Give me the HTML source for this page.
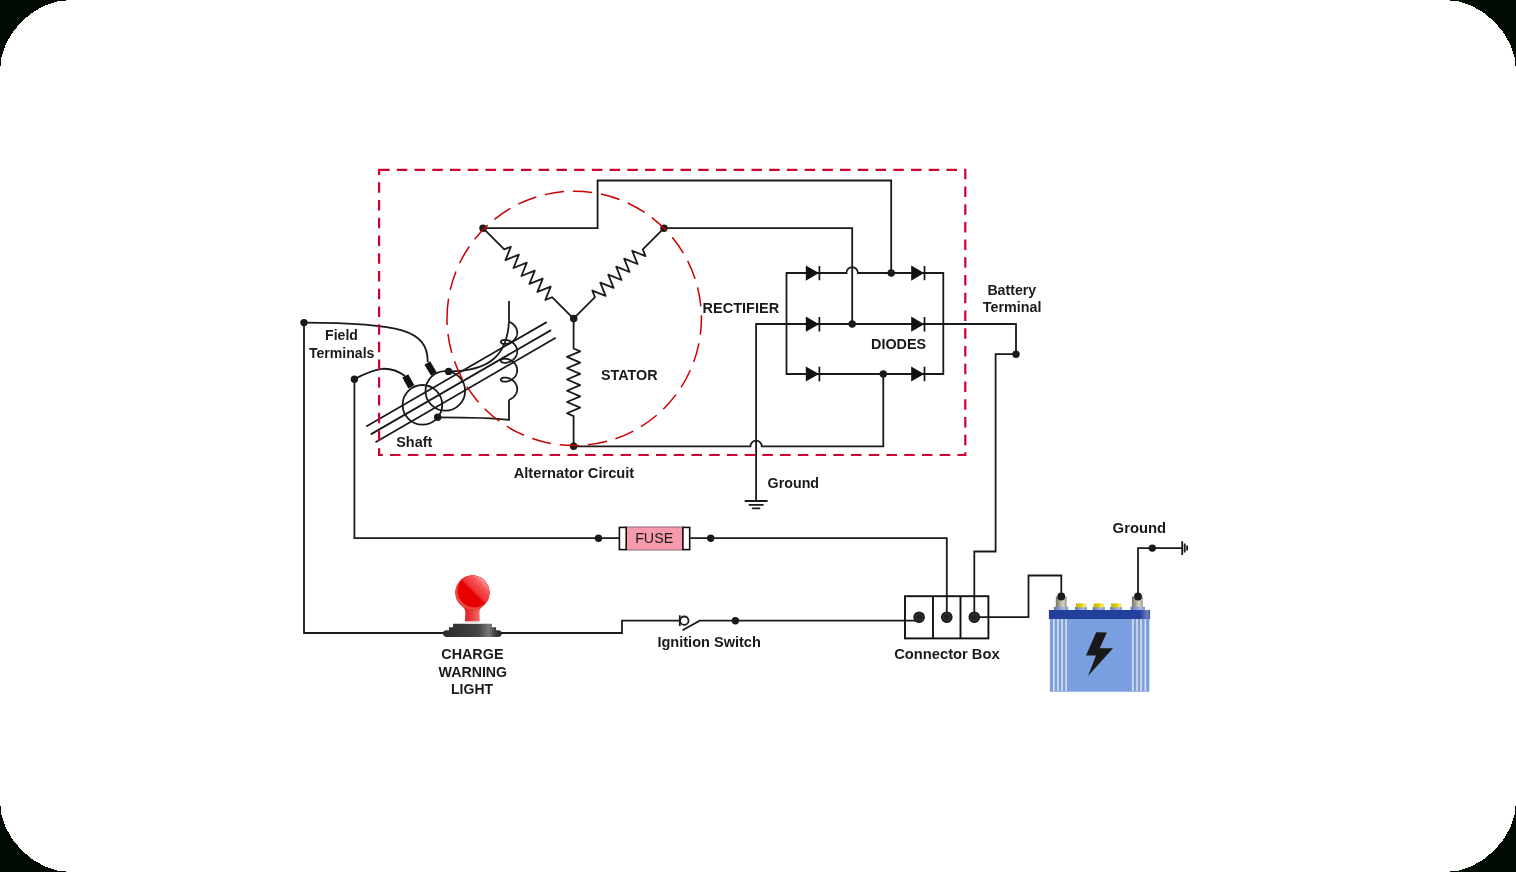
<!DOCTYPE html>
<html><head><meta charset="utf-8"><style>
html,body{margin:0;padding:0;width:1516px;height:872px;overflow:hidden;background:#000a00;}
svg{display:block;will-change:transform}
text{font-family:"Liberation Sans",sans-serif;fill:#1a1a1a}
</style></head><body>
<svg width="1516" height="872" viewBox="0 0 1516 872">
<defs>
<path id="res" d="M0.00,0.00 L30.00,0.00 L32.82,-6.60 L38.45,6.60 L44.08,-6.60 L49.72,6.60 L55.35,-6.60 L60.98,6.60 L66.62,-6.60 L72.25,6.60 L77.88,-6.60 L83.52,6.60 L89.15,-6.60 L94.78,6.60 L97.60,0.00 L128.00,0.00" fill="none" stroke="#1a1a1a" stroke-width="1.8" stroke-linejoin="round"/>
<linearGradient id="baseg" x1="0" x2="1" y1="0" y2="0">
<stop offset="0" stop-color="#2a2a2a"/><stop offset="0.6" stop-color="#444"/><stop offset="0.78" stop-color="#7a7a7a"/><stop offset="0.9" stop-color="#3a3a3a"/><stop offset="1" stop-color="#222"/>
</linearGradient>
<clipPath id="ballclip"><circle cx="472.4" cy="592.6" r="17.1"/></clipPath>
<linearGradient id="hlg" gradientUnits="userSpaceOnUse" x1="471.6" y1="591.4" x2="484.5" y2="578.5">
<stop offset="0" stop-color="#ff5a5a" stop-opacity="0"/><stop offset="0.16" stop-color="#f04545" stop-opacity="0.75"/><stop offset="0.6" stop-color="#f56262" stop-opacity="0.9"/><stop offset="1" stop-color="#ffb0b0" stop-opacity="1"/>
</linearGradient>
<linearGradient id="stemg" x1="0" x2="1" y1="0" y2="0">
<stop offset="0" stop-color="#e41010"/><stop offset="0.45" stop-color="#ec3a3a"/><stop offset="0.8" stop-color="#f26a6a"/><stop offset="1" stop-color="#e01818"/>
</linearGradient>
<linearGradient id="postg" x1="0" x2="1" y1="0" y2="0">
<stop offset="0" stop-color="#77725f"/><stop offset="0.65" stop-color="#d6d2c6"/><stop offset="1" stop-color="#a39d8c"/>
</linearGradient>
<linearGradient id="yelg" x1="0" x2="1" y1="0" y2="0">
<stop offset="0" stop-color="#c2b200"/><stop offset="0.55" stop-color="#ddcd00"/><stop offset="0.85" stop-color="#f6ec6a"/><stop offset="1" stop-color="#eadb22"/>
</linearGradient>
<linearGradient id="ringg" x1="0" x2="1" y1="0" y2="0">
<stop offset="0" stop-color="#5f78b2"/><stop offset="0.7" stop-color="#a9badf"/><stop offset="1" stop-color="#7891c6"/>
</linearGradient>
<linearGradient id="lidg" x1="0" x2="1" y1="0" y2="0">
<stop offset="0" stop-color="#22409b"/><stop offset="0.9" stop-color="#22409b"/><stop offset="0.97" stop-color="#6d7cbc"/><stop offset="1" stop-color="#4a5fae"/>
</linearGradient>
</defs>
<path d="M70,0 H1446 C1481.70,0 1516,34.30 1516,70 V802 C1516,837.70 1481.70,872 1446,872 H70 C34.30,872 0,837.70 0,802 V70 C0,34.30 34.30,0 70,0 Z" fill="#ffffff" shape-rendering="crispEdges"/>
<g>
<rect x="1049.9" y="618.5" width="99.5" height="73.2" fill="#7a9fe0"/>
<g fill="#dcdfe4">
<rect x="1053" y="619" width="1.6" height="72"/><rect x="1057.1" y="619" width="1.6" height="72"/><rect x="1061.2" y="619" width="1.6" height="72"/><rect x="1065.3" y="619" width="1.6" height="72"/>
<rect x="1132.1" y="619" width="1.6" height="72"/><rect x="1136.2" y="619" width="1.6" height="72"/><rect x="1140.3" y="619" width="1.6" height="72"/><rect x="1144.5" y="619" width="1.6" height="72"/>
</g>
<rect x="1048.9" y="610" width="101.2" height="9" fill="url(#lidg)"/>
<rect x="1053.8" y="606.8" width="14.4" height="3.2" fill="url(#ringg)"/>
<rect x="1130.5" y="606.8" width="14.4" height="3.2" fill="url(#ringg)"/>
<rect x="1055.8" y="596.5" width="11" height="10.5" fill="url(#postg)"/>
<rect x="1131.9" y="596.5" width="11" height="10.5" fill="url(#postg)"/>
<rect x="1075" y="607" width="12" height="3" fill="url(#ringg)"/><rect x="1092.7" y="607" width="12" height="3" fill="url(#ringg)"/><rect x="1110.1" y="607" width="12" height="3" fill="url(#ringg)"/>
<rect x="1076" y="603.4" width="10" height="4" fill="url(#yelg)"/><rect x="1093.7" y="603.4" width="10" height="4" fill="url(#yelg)"/><rect x="1111.1" y="603.4" width="10" height="4" fill="url(#yelg)"/>
<path d="M1096.2,632.2 L1106.9,632.4 L1099.7,648.2 L1113.0,648.2 L1088.0,676.0 L1096.0,655.5 L1086.0,655.4 Z" fill="#1a1a1a"/>
</g>
<use href="#res" transform="translate(483,228.2) rotate(45)"/>
<use href="#res" transform="translate(664,228.2) rotate(135)"/>
<use href="#res" transform="translate(573.6,318.5) rotate(90)"/>
<g fill="none" stroke="#1a1a1a" stroke-width="1.8">
<path d="M483,228.2 H597.6 V180.5 H891.2 V273"/>
<path d="M664,228.2 H852.2 V324"/>
<path d="M573.6,446.3 H750.4 A5.7,5.7 0 0 1 761.8,446.3 H883.3 V374"/>
<path d="M786.5,273 H846.4 A5.7,5.7 0 0 1 857.9,273 H943.3 V374 H786.5 Z"/>
<path d="M756.1,501 V324 H1016 V354.2 H995.6 V551.5 H974.3 V617.2"/>
<path d="M744.7,501 H767.6 M748.7,504.9 H763.6 M752.1,508.3 H760.2"/>
<path d="M354.4,379.2 V538.2 H619 M690.3,538.2 H946.8 V617.2"/>
<path d="M304,322.6 V633 H446 M500,633 H622 V620.7 H679.8"/>
<path d="M679.8,615.2 V626.1 M682.5,630.3 L699.7,620.7 H919"/>
<circle cx="684.3" cy="620.7" r="4.2"/>
<path d="M974.3,617.2 H1028.5 V575.5 H1061.3 V596.5"/>
<path d="M1138,596.5 V548.1 H1182.3"/>
<path d="M1182.2,541.2 V555.1 M1184.7,543.4 V552.5 M1187.1,545.5 V550.6"/>
<path d="M304,322.6 C400,323 428,330 427.7,362"/>
<path d="M354.4,379.2 Q370,370.5 382,368.8 Q394,368 405,376"/>
<path d="M366.2,426.5 L546.7,322.1 M370.7,434.4 L551.1,330.1 M375.5,442.3 L555.7,337.8"/>
<circle cx="422.4" cy="404.8" r="19.8"/>
<circle cx="445.3" cy="390.9" r="19.8"/>
<path d="M509,301 V321.79"/>
<path d="M509.00,321.79 L509.36,321.93 L509.72,322.07 L510.08,322.24 L510.44,322.41 L510.79,322.59 L511.14,322.79 L511.48,322.99 L511.83,323.21 L512.16,323.44 L512.49,323.68 L512.81,323.93 L513.13,324.19 L513.44,324.46 L513.74,324.74 L514.03,325.03 L514.31,325.32 L514.58,325.63 L514.83,325.95 L515.08,326.27 L515.32,326.60 L515.54,326.94 L515.75,327.29 L515.95,327.64 L516.14,328.00 L516.31,328.36 L516.46,328.73 L516.61,329.11 L516.73,329.49 L516.85,329.87 L516.94,330.25 L517.02,330.64 L517.09,331.03 L517.14,331.43 L517.18,331.82 L517.20,332.22 L517.20,332.61 L517.19,333.01 L517.16,333.40 L517.11,333.80 L517.05,334.19 L516.98,334.58 L516.89,334.97 L516.78,335.35 L516.66,335.73 L516.53,336.11 L516.38,336.48 L516.21,336.85 L516.03,337.21 L515.84,337.56 L515.63,337.91 L515.42,338.25 L515.18,338.59 L514.94,338.92 L514.69,339.23 L514.42,339.55 L514.15,339.85 L513.86,340.14 L513.57,340.42 L513.26,340.70 L512.95,340.96 L512.63,341.22 L512.30,341.46 L511.97,341.69 L511.63,341.91 L511.29,342.13 L510.94,342.33 L510.59,342.51 L510.23,342.69 L509.87,342.86 L509.51,343.01 L509.15,343.15 L508.79,343.29 L508.43,343.41 L508.07,343.51 L507.72,343.61 L507.36,343.69 L507.01,343.77 L506.66,343.83 L506.32,343.88 L505.98,343.92 L505.65,343.95 L505.32,343.97 L505.00,343.98 L504.69,343.98 L504.39,343.97 L504.10,343.94 L503.81,343.91 L503.54,343.87 L503.28,343.83 L503.02,343.77 L502.78,343.71 L502.55,343.63 L502.34,343.55 L502.13,343.47 L501.94,343.38 L501.77,343.28 L501.60,343.18 L501.45,343.07 L501.32,342.95 L501.20,342.84 L501.10,342.72 L501.01,342.59 L500.94,342.47 L500.88,342.34 L500.84,342.21 L500.81,342.08 L500.80,341.94 L500.81,341.81 L500.83,341.68 L500.86,341.55 L500.92,341.42 L500.99,341.29 L501.07,341.17 L501.17,341.05 L501.28,340.93 L501.41,340.81 L501.56,340.70 L501.72,340.60 L501.89,340.50 L502.08,340.41 L502.28,340.32 L502.49,340.24 L502.71,340.16 L502.95,340.10 L503.20,340.04 L503.46,339.99 L503.73,339.95 L504.01,339.91 L504.31,339.89 L504.61,339.87 L504.91,339.87 L505.23,339.88 L505.56,339.89 L505.89,339.92 L506.22,339.96 L506.56,340.00 L506.91,340.06 L507.26,340.13 L507.62,340.21 L507.97,340.31 L508.33,340.41 L508.69,340.53 L509.05,340.66 L509.41,340.80 L509.77,340.95 L510.13,341.11 L510.49,341.28 L510.84,341.47 L511.19,341.67 L511.53,341.87 L511.87,342.09 L512.21,342.32 L512.54,342.56 L512.86,342.81 L513.17,343.07 L513.48,343.35 L513.78,343.63 L514.07,343.92 L514.35,344.22 L514.61,344.53 L514.87,344.84 L515.12,345.17 L515.35,345.50 L515.57,345.84 L515.78,346.19 L515.98,346.54 L516.16,346.90 L516.33,347.26 L516.48,347.63 L516.62,348.01 L516.75,348.39 L516.86,348.77 L516.96,349.16 L517.03,349.55 L517.10,349.94 L517.15,350.33 L517.18,350.73 L517.20,351.12 L517.20,351.52 L517.18,351.91 L517.15,352.31 L517.11,352.70 L517.04,353.10 L516.97,353.48 L516.87,353.87 L516.77,354.26 L516.64,354.64 L516.50,355.01 L516.35,355.38 L516.19,355.75 L516.01,356.11 L515.81,356.46 L515.60,356.81 L515.38,357.15 L515.15,357.49 L514.91,357.81 L514.65,358.13 L514.38,358.44 L514.11,358.74 L513.82,359.03 L513.52,359.31 L513.22,359.59 L512.91,359.85 L512.58,360.10 L512.26,360.34 L511.92,360.57 L511.58,360.80 L511.24,361.00 L510.89,361.20 L510.54,361.39 L510.18,361.57 L509.82,361.73 L509.46,361.88 L509.10,362.02 L508.74,362.15 L508.38,362.27 L508.02,362.38 L507.67,362.47 L507.31,362.56 L506.96,362.63 L506.61,362.69 L506.27,362.74 L505.93,362.78 L505.60,362.80 L505.28,362.82 L504.96,362.83 L504.65,362.83 L504.35,362.81 L504.06,362.79 L503.77,362.76 L503.50,362.72 L503.24,362.67 L502.99,362.61 L502.75,362.55 L502.52,362.47 L502.31,362.39 L502.10,362.31 L501.92,362.21 L501.74,362.11 L501.58,362.01 L501.43,361.90 L501.30,361.79 L501.19,361.67 L501.08,361.55 L501.00,361.42 L500.93,361.30 L500.87,361.17 L500.83,361.04 L500.81,360.91 L500.80,360.77 L500.81,360.64 L500.83,360.51 L500.87,360.38 L500.93,360.25 L501.00,360.13 L501.08,360.00 L501.19,359.88 L501.30,359.76 L501.43,359.65 L501.58,359.54 L501.74,359.43 L501.92,359.34 L502.10,359.24 L502.31,359.16 L502.52,359.08 L502.75,359.00 L502.99,358.94 L503.24,358.88 L503.50,358.83 L503.77,358.79 L504.06,358.76 L504.35,358.74 L504.65,358.72 L504.96,358.72 L505.28,358.73 L505.60,358.74 L505.93,358.77 L506.27,358.81 L506.61,358.86 L506.96,358.92 L507.31,358.99 L507.67,359.08 L508.02,359.17 L508.38,359.28 L508.74,359.40 L509.10,359.52 L509.46,359.67 L509.82,359.82 L510.18,359.98 L510.54,360.16 L510.89,360.35 L511.24,360.54 L511.58,360.75 L511.92,360.97 L512.26,361.21 L512.58,361.45 L512.91,361.70 L513.22,361.96 L513.52,362.24 L513.82,362.52 L514.11,362.81 L514.38,363.11 L514.65,363.42 L514.91,363.74 L515.15,364.06 L515.38,364.40 L515.60,364.74 L515.81,365.09 L516.01,365.44 L516.19,365.80 L516.35,366.17 L516.50,366.54 L516.64,366.91 L516.77,367.29 L516.87,367.68 L516.97,368.06 L517.04,368.45 L517.11,368.85 L517.15,369.24 L517.18,369.63 L517.20,370.03 L517.20,370.43 L517.18,370.82 L517.15,371.22 L517.10,371.61 L517.03,372.00 L516.96,372.39 L516.86,372.78 L516.75,373.16 L516.62,373.54 L516.48,373.91 L516.33,374.28 L516.16,374.65 L515.98,375.01 L515.78,375.36 L515.57,375.71 L515.35,376.05 L515.12,376.38 L514.87,376.71 L514.61,377.02 L514.35,377.33 L514.07,377.63 L513.78,377.92 L513.48,378.20 L513.17,378.47 L512.86,378.73 L512.54,378.99 L512.21,379.23 L511.87,379.46 L511.53,379.68 L511.19,379.88 L510.84,380.08 L510.49,380.27 L510.13,380.44 L509.77,380.60 L509.41,380.75 L509.05,380.89 L508.69,381.02 L508.33,381.14 L507.97,381.24 L507.62,381.33 L507.26,381.42 L506.91,381.49 L506.56,381.55 L506.22,381.59 L505.89,381.63 L505.56,381.66 L505.23,381.67 L504.91,381.68 L504.61,381.67 L504.31,381.66 L504.01,381.64 L503.73,381.60 L503.46,381.56 L503.20,381.51 L502.95,381.45 L502.71,381.39 L502.49,381.31 L502.28,381.23 L502.08,381.14 L501.89,381.05 L501.72,380.95 L501.56,380.84 L501.41,380.73 L501.28,380.62 L501.17,380.50 L501.07,380.38 L500.99,380.26 L500.92,380.13 L500.86,380.00 L500.83,379.87 L500.81,379.74 L500.80,379.61 L500.81,379.47 L500.84,379.34 L500.88,379.21 L500.94,379.08 L501.01,378.96 L501.10,378.83 L501.20,378.71 L501.32,378.60 L501.45,378.48 L501.60,378.37 L501.77,378.27 L501.94,378.17 L502.13,378.08 L502.34,377.99 L502.55,377.91 L502.78,377.84 L503.02,377.78 L503.28,377.72 L503.54,377.67 L503.81,377.63 L504.10,377.60 L504.39,377.58 L504.69,377.57 L505.00,377.57 L505.32,377.58 L505.65,377.60 L505.98,377.63 L506.32,377.67 L506.66,377.72 L507.01,377.78 L507.36,377.85 L507.72,377.94 L508.07,378.04 L508.43,378.14 L508.79,378.26 L509.15,378.39 L509.51,378.54 L509.87,378.69 L510.23,378.86 L510.59,379.03 L510.94,379.22 L511.29,379.42 L511.63,379.63 L511.97,379.86 L512.30,380.09 L512.63,380.33 L512.95,380.59 L513.26,380.85 L513.57,381.12 L513.86,381.41 L514.15,381.70 L514.42,382.00 L514.69,382.31 L514.94,382.63 L515.18,382.96 L515.42,383.30 L515.63,383.64 L515.84,383.99 L516.03,384.34 L516.21,384.70 L516.38,385.07 L516.53,385.44 L516.66,385.82 L516.78,386.20 L516.89,386.58 L516.98,386.97 L517.05,387.36 L517.11,387.75 L517.16,388.14 L517.19,388.54 L517.20,388.94 L517.20,389.33 L517.18,389.73 L517.14,390.12 L517.09,390.51 L517.02,390.91 L516.94,391.29 L516.85,391.68 L516.73,392.06 L516.61,392.44 L516.46,392.82 L516.31,393.19 L516.14,393.55 L515.95,393.91 L515.75,394.26 L515.54,394.61 L515.32,394.95 L515.08,395.28 L514.83,395.60 L514.58,395.92 L514.31,396.22 L514.03,396.52 L513.74,396.81 L513.44,397.09 L513.13,397.36 L512.81,397.62 L512.49,397.87 L512.16,398.11 L511.83,398.34 L511.48,398.56 L511.14,398.76 L510.79,398.96 L510.44,399.14 L510.08,399.31 L509.72,399.47 L509.36,399.62 L509.00,399.76" stroke-linejoin="round"/>
<path d="M509,399.76 V419.8 C490,417.3 470,417.3 437.7,417.3"/>
<path d="M509,321.79 C507,355 490,371.4 448.6,371.4"/>
</g>
<g fill="#111">
<rect x="-3.3" y="-6.4" width="6.6" height="12.8" transform="translate(430.6,368.5) rotate(-31)"/>
<rect x="-3.4" y="-6.3" width="6.8" height="12.6" transform="translate(408.3,381.4) rotate(-29)"/>
</g>
<g fill="#111">
<path d="M805.8,265.5 L819.0,273.1 L805.8,280.7 Z"/>
<path d="M911.2,265.5 L924.1,273.1 L911.2,280.7 Z"/>
<path d="M805.8,316.6 L819.0,324.2 L805.8,331.8 Z"/>
<path d="M911.2,316.6 L924.1,324.2 L911.2,331.8 Z"/>
<path d="M805.8,366.4 L819.0,374.0 L805.8,381.6 Z"/>
<path d="M911.2,366.4 L924.1,374.0 L911.2,381.6 Z"/>
</g>
<path d="M819.4,265.9 V280.3 M924.5,265.9 V280.3 M819.4,317.0 V331.4 M924.5,317.0 V331.4 M819.4,366.8 V381.2 M924.5,366.8 V381.2" stroke="#111" stroke-width="1.7"/>
<g fill="#1a1a1a">
<circle cx="483" cy="228.2" r="3.7"/><circle cx="664" cy="228.2" r="3.7"/><circle cx="573.7" cy="318.6" r="3.8"/><circle cx="573.6" cy="446.3" r="3.7"/>
<circle cx="891.2" cy="273" r="3.7"/><circle cx="852.2" cy="324" r="3.7"/><circle cx="883.3" cy="374" r="3.7"/>
<circle cx="1016" cy="354.2" r="3.7"/>
<circle cx="304" cy="322.6" r="3.7"/><circle cx="354.4" cy="379.2" r="3.7"/>
<circle cx="448.6" cy="371.4" r="3.7"/><circle cx="437.7" cy="417.3" r="3.7"/>
<circle cx="598.5" cy="538.2" r="3.7"/><circle cx="710.7" cy="538.2" r="3.7"/>
<circle cx="735.4" cy="620.7" r="3.7"/>
<circle cx="1152.3" cy="548.1" r="3.7"/>
<circle cx="1061.3" cy="596.5" r="3.9"/><circle cx="1138" cy="596.5" r="3.9"/>
</g>
<rect x="379.1" y="169.8" width="586.2" height="285.2" fill="none" stroke="#cc0033" stroke-width="2.2" stroke-dasharray="10.5 7.23"/>
<path d="M447.0,317.96 A127.2,127.2 0 0 1 701.4,318.84 A127.2,127.2 0 0 1 447.0,317.96" fill="none" stroke="#cc0000" stroke-width="1.5" stroke-dasharray="19.4 8.88"/>
<rect x="626" y="527" width="57" height="23" fill="#f79aad" stroke="#8a6a70" stroke-width="1"/>
<rect x="619.4" y="527.4" width="6.8" height="22.2" fill="#fff" stroke="#111" stroke-width="1.6"/>
<rect x="682.9" y="527.4" width="6.8" height="22.2" fill="#fff" stroke="#111" stroke-width="1.6"/>
<g fill="none" stroke="#111" stroke-width="1.9">
<rect x="905" y="596.2" width="83.4" height="42.2"/>
<path d="M933,596.2 V638.4 M960.5,596.2 V638.4"/>
</g>
<g fill="#222" stroke="#111" stroke-width="1.2">
<circle cx="919.1" cy="617.2" r="5.2"/><circle cx="946.8" cy="617.2" r="5.2"/><circle cx="974.3" cy="617.2" r="5.2"/>
</g>
<g fill="none" stroke="#4a4a4a" stroke-width="0.5">
<circle cx="919.1" cy="617.2" r="3.7"/><circle cx="946.8" cy="617.2" r="3.7"/><circle cx="974.3" cy="617.2" r="3.7"/>
</g>
<g>
<path d="M446.4,636.9 A3.3,3.3 0 0 1 446.4,630.3 L449,630.3 L449,627.2 L453.1,627.2 L453.1,623.8 L491.8,623.8 L491.8,627.2 L496.1,627.2 L496.1,630.3 L498.4,630.3 A3.3,3.3 0 0 1 498.4,636.9 Z" fill="url(#baseg)"/>
<rect x="465.1" y="621.2" width="14.6" height="2.6" fill="#e4e4e4"/>
<path d="M465,621.2 L465.4,612 Q465,608.5 461.5,605 L483.5,605 Q479.8,608.5 479.4,612 L479.7,621.2 Z" fill="url(#stemg)"/>
<circle cx="472.4" cy="592.6" r="17.1" fill="#e60000"/>
<g clip-path="url(#ballclip)">
<circle cx="472.4" cy="592.6" r="17.1" fill="#ee4a4a"/>
<circle cx="474.2" cy="590.8" r="16.6" fill="#e60000"/>
<rect x="440" y="560" width="70" height="70" fill="url(#hlg)"/>
</g>
</g>
<text x="325.1" y="339.85" style="font-size:14.05px;font-weight:bold">Field</text>
<text x="309.0" y="357.7" style="font-size:14.07px;font-weight:bold">Terminals</text>
<text x="396.25" y="447.15" style="font-size:14.43px;font-weight:bold">Shaft</text>
<text x="600.95" y="379.8" style="font-size:14.35px;font-weight:bold">STATOR</text>
<text x="702.6" y="313.0" style="font-size:14.5px;font-weight:bold">RECTIFIER</text>
<text x="871.1" y="348.7" style="font-size:14.35px;font-weight:bold">DIODES</text>
<text x="987.4" y="294.7" style="font-size:14.15px;font-weight:bold">Battery</text>
<text x="982.85" y="312.4" style="font-size:14.3px;font-weight:bold">Terminal</text>
<text x="513.7" y="478.0" style="font-size:14.66px;font-weight:bold">Alternator Circuit</text>
<text x="767.6" y="487.8" style="font-size:14.26px;font-weight:bold">Ground</text>
<text x="1112.6" y="532.75" style="font-size:14.84px;font-weight:bold">Ground</text>
<text x="441.3" y="658.7" style="font-size:14.35px;font-weight:bold">CHARGE</text>
<text x="438.57" y="676.5" style="font-size:14.2px;font-weight:bold">WARNING</text>
<text x="451.06" y="694.1" style="font-size:14.0px;font-weight:bold">LIGHT</text>
<text x="657.4" y="646.7" style="font-size:14.56px;font-weight:bold">Ignition Switch</text>
<text x="894.2" y="658.9" style="font-size:14.72px;font-weight:bold">Connector Box</text>
<text x="635.15" y="543.17" style="font-size:14.3px;font-weight:normal">FUSE</text>
</svg>
</body></html>
